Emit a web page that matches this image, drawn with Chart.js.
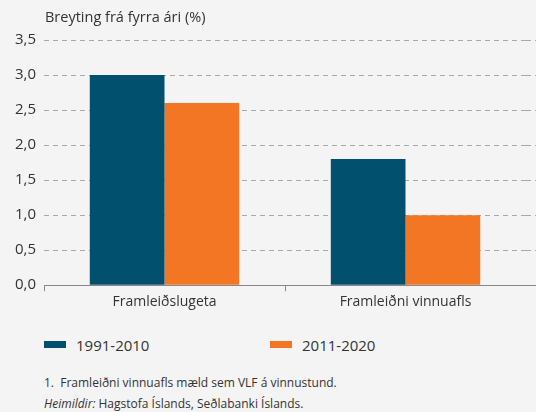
<!DOCTYPE html>
<html>
<head>
<meta charset="utf-8">
<script src="https://cdn.jsdelivr.net/npm/chart.js@4"></script>
<style>
  body { margin: 0; background: #f4f4f4; font-family: "Open Sans", sans-serif; color: #333; }
  #wrap { position: relative; width: 536px; height: 412px; overflow: hidden; }
  #box { position: absolute; left: 0; top: 0; width: 536px; height: 312px; }
  .legend { position: absolute; top: 335px; font-size: 15px; color: #333; }
  .legend span { display: inline-block; width: 22px; height: 7px; margin-right: 10px; vertical-align: 3px; }
  .note { position: absolute; left: 44px; font-size: 12px; color: #333; }
</style>
</head>
<body>
<div id="wrap">
  <div id="box"><canvas id="growthChart"></canvas></div>
  <div class="legend" style="left:44px"><span style="background:#00506e"></span>1991-2010</div>
  <div class="legend" style="left:270px"><span style="background:#f37625"></span>2011-2020</div>
  <div class="note" style="top:374px">1.&nbsp; Framleiðni vinnuafls mæld sem VLF á vinnustund.</div>
  <div class="note" style="top:395px"><i>Heimildir:</i> Hagstofa Íslands, Seðlabanki Íslands.</div>
</div>
<script>
// average growth by period
const categories = ['Framleiðslugeta', 'Framleiðni vinnuafls'];
const period1 = [3.0, 1.8];   // 1991-2010
const period2 = [2.6, 1.0];   // 2011-2020
const seriesLabels = ['1991-2010', '2011-2020'];

var blue = '#00506e'
var orange = '#f37625'
var gridGrey = '#a8a8a8'

// y axis caption above the plot, and grid/axis lines run out to the right edge
const decorations = {
    id: 'decorations',
    afterDraw(chart) {
        const ctx = chart.ctx;
        const area = chart.chartArea;
        const yScale = chart.scales.y;
        ctx.save();
        ctx.font = '14.5px "Open Sans", sans-serif';
        ctx.fillStyle = '#333';
        ctx.fillText('Breyting frá fyrra ári (%)', area.left + 1, 22);

        ctx.lineWidth = 1;
        ctx.strokeStyle = gridGrey;
        ctx.setLineDash([5, 4]);
        for (const t of yScale.ticks) {
            if (t.value === 0) continue;
            const y = Math.round(yScale.getPixelForValue(t.value)) + 0.5;
            ctx.beginPath();
            ctx.moveTo(area.right, y);
            ctx.lineTo(chart.width, y);
            ctx.stroke();
        }
        ctx.setLineDash([]);
        ctx.strokeStyle = '#888';
        const y0 = Math.round(yScale.getPixelForValue(0)) + 0.5;
        ctx.beginPath();
        ctx.moveTo(area.right, y0);
        ctx.lineTo(chart.width, y0);
        ctx.stroke();
        ctx.restore();
    }
};

var growthChart = new Chart('growthChart', {
    type: 'bar',
    data: {
        labels: categories,
        datasets: [{
            label: seriesLabels[0],
            data: period1,
            backgroundColor: blue
        }, {
            label: seriesLabels[1],
            data: period2,
            backgroundColor: orange
        }]
    },
    options: {
        responsive: true,
        maintainAspectRatio: false,
        animation: false,
        layout: { padding: { top: 40, right: 10, left: 0, bottom: 0 } },
        plugins: {
            legend: { display: false },
            tooltip: { enabled: false }
        },
        datasets: {
            bar: { categoryPercentage: 0.62, barPercentage: 1.0 }
        },
        scales: {
            x: {
                grid: {
                    drawOnChartArea: false,
                    drawTicks: true,
                    tickLength: 6,
                    // no tick mark after the last category
                    color: (c) => c.tick ? '#888' : 'rgba(0,0,0,0)'
                },
                border: { color: '#888', width: 1 },
                ticks: { color: '#333', font: { size: 14, family: '"Open Sans", sans-serif' }, padding: 2 }
            },
            y: {
                min: 0,
                max: 3.5,
                afterFit(scale) { scale.width = 44; },
                ticks: {
                    stepSize: 0.5,
                    color: '#333',
                    padding: 8,
                    font: { size: 15, family: '"Open Sans", sans-serif' },
                    callback: (v) => v.toFixed(1).replace('.', ',')
                },
                grid: {
                    color: (c) => c.tick.value === 0 ? 'rgba(0,0,0,0)' : gridGrey,
                    drawTicks: false
                },
                border: { display: false, dash: [5, 4] }
            }
        }
    },
    plugins: [decorations]
});
</script>
</body>
</html>
